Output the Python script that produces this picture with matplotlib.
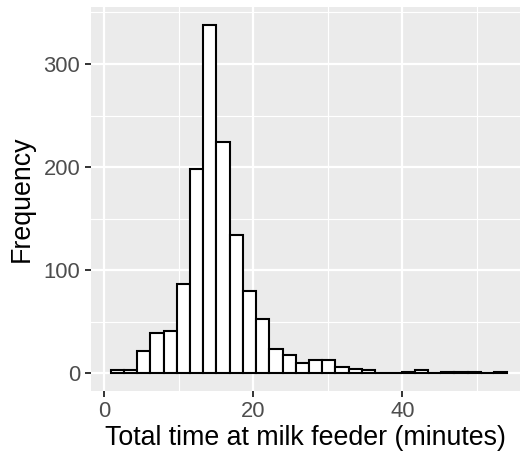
import numpy as np
import matplotlib
matplotlib.use("Agg")
import matplotlib.pyplot as plt
from matplotlib.ticker import MultipleLocator

# Data
bin_start = 0.855
bin_end = 54.09
counts = [3, 3, 22, 39, 41, 87, 198, 338, 224, 134, 80, 53, 24, 18, 10,
          13, 13, 6, 4, 3, 0, 0, 1, 3, 0, 1, 1, 1, 0, 1]
x_ticks = [0, 20, 40]
y_ticks = [0, 100, 200, 300]

plt.rcParams['font.family'] = ['Liberation Sans', 'DejaVu Sans']

fig = plt.figure(figsize=(5.2, 4.57), dpi=100)
W, H = 520, 457
ax = fig.add_axes([91 / W, 1 - 390.5 / H, (520 - 91) / W, (390.5 - 7.3) / H])
ax.set_facecolor('#EBEBEB')

edges = np.linspace(bin_start, bin_end, len(counts) + 1)
widths = np.diff(edges)
ax.bar(edges[:-1], counts, width=widths, align='edge', color='white',
       edgecolor='black', linewidth=1.5, zorder=3)

ax.set_xlim(-1.785, 55.8)
ax.set_ylim(-16.7, 355)
ax.xaxis.set_major_locator(plt.FixedLocator(x_ticks))
ax.yaxis.set_major_locator(plt.FixedLocator(y_ticks))
ax.xaxis.set_minor_locator(MultipleLocator(10))
ax.yaxis.set_minor_locator(MultipleLocator(50))
ax.grid(which='major', color='white', linewidth=1.6, zorder=0)
ax.grid(which='minor', color='white', linewidth=0.8, zorder=0)
ax.set_axisbelow(True)
for s in ax.spines.values():
    s.set_visible(False)
ax.tick_params(which='major', length=4.3, width=1.4, color='#333333',
               labelcolor='#4D4D4D', labelsize=15.8, pad=3.5)
ax.tick_params(which='minor', length=0)

ax.set_xlabel('Total time at milk feeder (minutes)', fontsize=19.3, color='black', labelpad=2)
ax.set_ylabel('Frequency', fontsize=19.3, color='black', labelpad=6)

fig.savefig('out.png', dpi=100)
